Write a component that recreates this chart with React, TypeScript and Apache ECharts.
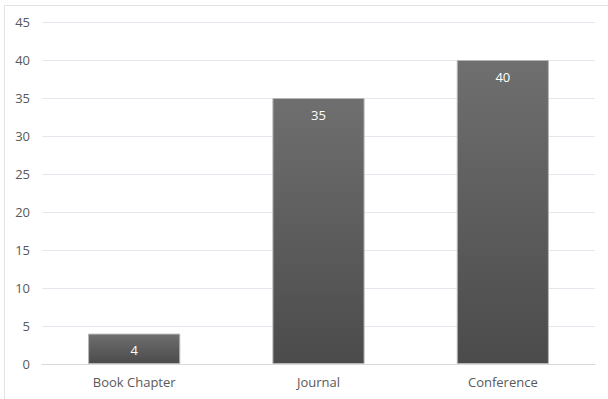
import React, { useEffect, useRef } from "react";
import * as echarts from "echarts";

const categories = ["Book Chapter", "Journal", "Conference"];
const values = [4, 35, 40];
const yTicks = { min: 0, max: 45, interval: 5 };

export default function App() {
  const ref = useRef<HTMLDivElement>(null);
  useEffect(() => {
    const chart = echarts.init(ref.current!, null, { renderer: "svg" });
    chart.setOption({
      animation: false,
      backgroundColor: "#ffffff",
      textStyle: { fontFamily: "Open Sans" },
      graphic: [
        {
          type: "rect",
          shape: { x: 4.5, y: 5.5, width: 700, height: 500 },
          style: { fill: "none", stroke: "#e3e3e3", lineWidth: 1 },
          silent: true,
        },
      ],
      grid: { left: 42, right: 13, top: 22, bottom: 35 },
      xAxis: {
        type: "category",
        data: categories,
        axisLine: { show: true, lineStyle: { color: "#d9d9d9" } },
        axisTick: { show: false },
        axisLabel: { color: "#595959", fontSize: 13, margin: 11 },
      },
      yAxis: {
        type: "value",
        min: yTicks.min,
        max: yTicks.max,
        interval: yTicks.interval,
        axisLine: { show: false },
        axisTick: { show: false },
        axisLabel: { color: "#595959", fontSize: 13, margin: 12 },
        splitLine: { lineStyle: { color: "#e4e7ee" } },
      },
      series: [
        {
          type: "bar",
          data: values,
          barWidth: "50%",
          itemStyle: {
            color: new echarts.graphic.LinearGradient(0, 0, 0, 1, [
              { offset: 0, color: "#6f6f6f" },
              { offset: 1, color: "#4b4b4b" },
            ]),
            borderColor: "#b5b5b5",
            borderWidth: 1,
          },
          label: {
            show: true,
            position: "insideTop",
            distance: 10,
            color: "#ffffff",
            fontSize: 13,
          },
        },
      ],
    });
    return () => chart.dispose();
  }, []);
  return (
    <div
      ref={ref}
      style={{ position: "fixed", left: 0, top: 0, width: 608, height: 399 }}
    />
  );
}
